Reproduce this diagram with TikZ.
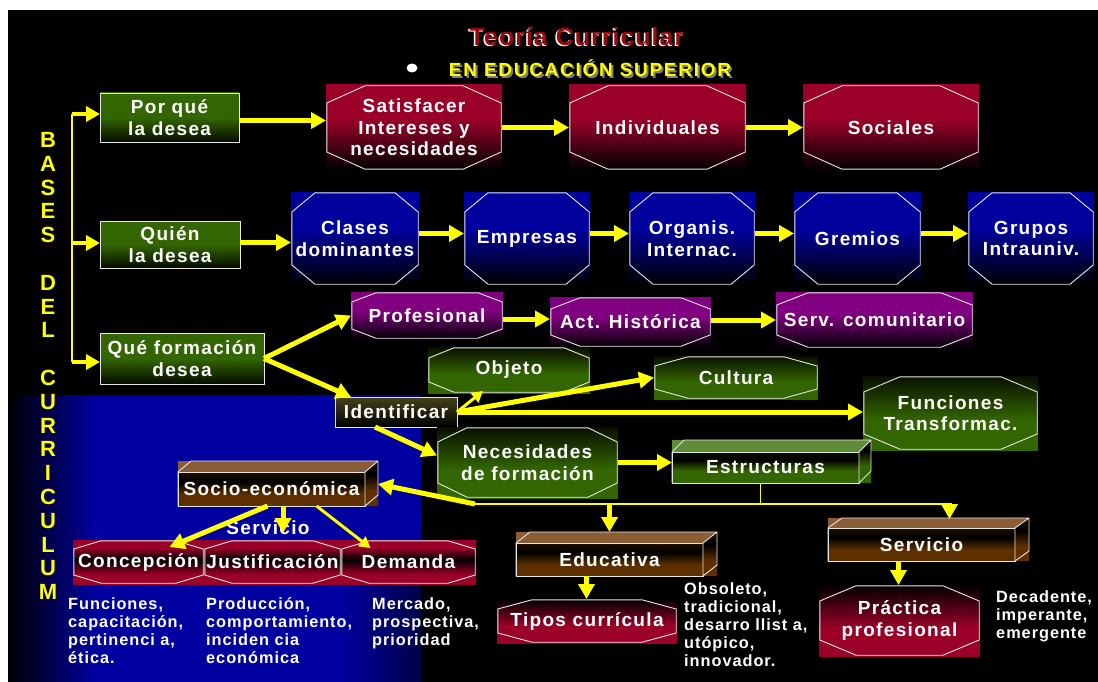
\documentclass[tikz,border=0pt]{standalone}
\usepackage{fontspec}
\setmainfont{Liberation Sans}
\newfontfamily\spaced[LetterSpace=7]{Liberation Sans}
\newfontfamily\spacedD[LetterSpace=6]{Liberation Sans}
\newfontfamily\spacedS[LetterSpace=9]{Liberation Sans}
\newfontfamily\spacedT[LetterSpace=4]{Liberation Sans}
\usetikzlibrary{arrows.meta,calc}

\definecolor{crim}{HTML}{9A0028}
\definecolor{cBlue}{HTML}{00009C}
\definecolor{cPurp}{HTML}{800080}
\definecolor{cGreen}{HTML}{336600}
\definecolor{cGreenL}{HTML}{5F8C37}
\definecolor{cBrownL}{HTML}{8A5D36}
\definecolor{cBrownD}{HTML}{5E3000}
\definecolor{cOlive}{HTML}{46421A}
\definecolor{cYel}{HTML}{FFFF00}
\definecolor{cTitle}{HTML}{9A0A0A}
\definecolor{cBg}{HTML}{0000A0}
\definecolor{cEdge}{HTML}{E6E6E6}
\colorlet{cGreenK}{black!85!cGreen}
\colorlet{cBrownK}{black!70!cBrownD}
\colorlet{cGreenDk}{black!90!cGreen}

% vertical shadings: 0bp is the bottom, the shaded path spans 25bp..75bp
\pgfdeclareverticalshading{redDown}{100bp}{color(0bp)=(black); color(25bp)=(black); color(55bp)=(crim); color(100bp)=(crim)}
\pgfdeclareverticalshading{blueDown}{100bp}{color(0bp)=(black); color(25bp)=(black); color(55bp)=(cBlue); color(100bp)=(cBlue)}
\pgfdeclareverticalshading{purpDown}{100bp}{color(0bp)=(black); color(25bp)=(black); color(55bp)=(cPurp); color(100bp)=(cPurp)}
\pgfdeclareverticalshading{greenDown}{100bp}{color(0bp)=(black); color(25bp)=(cGreenDk); color(50bp)=(cGreen); color(100bp)=(cGreen)}
\pgfdeclareverticalshading{greenUp}{100bp}{color(0bp)=(cGreen); color(45bp)=(cGreen); color(75bp)=(cGreenK); color(100bp)=(cGreenK)}
\pgfdeclareverticalshading{oliveDown}{100bp}{color(0bp)=(black); color(25bp)=(black); color(75bp)=(cOlive); color(100bp)=(cOlive)}
\pgfdeclareverticalshading{redBand}{100bp}{color(0bp)=(crim); color(25bp)=(crim); color(36bp)=(crim); color(53bp)=(black); color(66bp)=(crim); color(100bp)=(crim)}
\pgfdeclareverticalshading{redUp}{100bp}{color(0bp)=(crim); color(25bp)=(crim); color(45bp)=(crim); color(75bp)=(black); color(100bp)=(black)}
\pgfdeclareverticalshading{brownFace}{100bp}{color(0bp)=(cBrownD); color(25bp)=(cBrownD); color(42bp)=(cBrownD); color(60bp)=(black); color(75bp)=(cBrownK); color(100bp)=(cBrownK)}
\pgfdeclareverticalshading{greenFace}{100bp}{color(0bp)=(cGreen); color(25bp)=(cGreen); color(45bp)=(cGreen); color(62bp)=(black); color(75bp)=(cGreenK); color(100bp)=(cGreenK)}

% top face, side face and corner fills of a box drawn in perspective
\newcommand\cubeparts[6]{%
  \fill[#4] (#1.north west) -- ++(0,-#3) -- ++(#2,0) -- cycle;
  \fill[#6] (#1.south east) -- ++(#2,0) -- ++(0,-#3) -- cycle;
  \fill[#4] (#1.north west) -- ++(#2,-#3) -- ($(#1.north east)+(#2,-#3)$) -- (#1.north east) -- cycle;
  \shade[shading=#5] (#1.north east) -- ++(#2,-#3) -- ($(#1.south east)+(#2,-#3)$) -- (#1.south east) -- cycle;
  \draw[rim] (#1.south west) -- (#1.north west) -- ++(#2,-#3) -- ($(#1.north east)+(#2,-#3)$) -- ($(#1.south east)+(#2,-#3)$) -- (#1.south east) -- (#1.north east) -- ($(#1.north east)+(#2,-#3)$);
  \draw[rim] (#1.north west) -- (#1.north east);
}

\tikzset{
  rim/.style={draw=cEdge, line width=0.9pt},
  lbl/.style={text=white, font=\spaced\bfseries\fontsize{19}{21.5}\selectfont, align=center, inner sep=0pt, outer sep=0pt},
  rbox/.style={lbl, shade, draw=cEdge, line width=0.9pt},
  cubebox/.style={lbl, shade, draw=cEdge, line width=0.9pt},
  oct/.style 2 args={lbl, shade, path picture={
    \draw[rim]
      ($(path picture bounding box.north west)+(#1pt,-0.8pt)$) --
      ($(path picture bounding box.north east)+(-#1pt,-0.8pt)$) --
      ($(path picture bounding box.north east)+(-0.8pt,-#2pt)$) --
      ($(path picture bounding box.south east)+(-0.8pt,#2pt)$) --
      ($(path picture bounding box.south east)+(-#1pt,0.8pt)$) --
      ($(path picture bounding box.south west)+(#1pt,0.8pt)$) --
      ($(path picture bounding box.south west)+(0.8pt,#2pt)$) --
      ($(path picture bounding box.north west)+(0.8pt,-#2pt)$) -- cycle;}},
  desc/.style={anchor=north west, inner sep=0pt, align=left, text=white, font=\spacedD\bfseries\fontsize{16.3}{18}\selectfont},
  ttl/.style={font=\spacedT\bfseries\fontsize{25}{28}\selectfont, inner sep=0pt},
  subttl/.style={font=\spacedS\bfseries\fontsize{19}{22}\selectfont, inner sep=0pt},
  letter/.style={text=cYel, font=\bfseries\fontsize{22}{24}\selectfont, inner sep=0pt},
  arr/.style={draw=cYel, line width=5pt, -{Triangle[length=15pt,width=16pt]}},
  arrthin/.style={draw=cYel, line width=3pt, -{Triangle[length=11pt,width=12pt]}},
  brk/.style={draw=cYel, line width=4pt, -{Triangle[length=14pt,width=15pt]}},
  yelthin/.style={draw=cYel, line width=1.3pt},
}

\begin{document}
\begin{tikzpicture}[x=1pt,y=-1pt]
\useasboundingbox (0,0) rectangle (1098,682);
\fill[white] (0,0) rectangle (1098,682);
\fill[black] (8,10) rectangle (1098,682);

% blue panel, lower left
\fill[cBg] (8,395) rectangle (421,682);
\shade[left color=black, right color=cBg] (8,395) rectangle (95,682);
\shade[left color=cBg, right color=black!55!cBg] (340,540) rectangle (421,682);

% heading
\node[ttl, text=white] (titleshadow) at (575.5,37.5) {Teoría Curricular};
\node[ttl, text=cTitle] (title) at (577,36) {Teoría Curricular};
\fill[white] (412,68) ellipse (5.5 and 4.5);
\node[subttl, text=gray] (subshadow) at (592,70) {EN EDUCACIÓN SUPERIOR};
\node[subttl, text=cYel] (sub) at (590,68) {EN EDUCACIÓN SUPERIOR};

% vertical caption
\foreach \ch/\k in {B/0,A/1,S/2,E/3,S/4,D/6,E/7,L/8,C/10,U/11,R/12,R/13,I/14,C/15,U/16,L/17,U/18,M/19}
  \node[letter] (l\k) at (48,{140+23.8*\k}) {\ch};

% left-hand questions
\node[rbox, shading=greenDown, minimum width=139pt, minimum height=49pt] (por) at (169.5,117.5) {Por qué\\la desea};
\node[rbox, shading=greenDown, minimum width=140pt, minimum height=47pt] (qui) at (170,244.5) {Quién\\la desea};
\node[rbox, shading=greenDown, minimum width=164pt, minimum height=51pt] (qf) at (182,358.5) {Qué formación\\desea};

% first row
\node[oct={39}{18}, shading=redDown, minimum width=176pt, minimum height=85pt] (sat) at (414,127.5) {Satisfacer\\Intereses y\\necesidades};
\node[oct={39}{18}, shading=redDown, minimum width=177pt, minimum height=85pt] (ind) at (657.5,127.5) {Individuales};
\node[oct={39}{18}, shading=redDown, minimum width=176pt, minimum height=85pt] (soc) at (891,127.5) {Sociales};

% second row
\node[oct={24}{20}, shading=blueDown, minimum width=128pt, minimum height=93pt] (cla) at (355,238.5) {Clases\\dominantes};
\node[oct={24}{20}, shading=blueDown, minimum width=126pt, minimum height=93pt] (emp) at (527,238.5) {Empresas};
\node[oct={24}{20}, shading=blueDown, minimum width=126pt, minimum height=93pt] (org) at (692,238.5) {Organis.\\Internac.};
\node[oct={24}{20}, shading=blueDown, minimum width=127pt, minimum height=93pt] (gre) at (857.5,238.5) {Gremios};
\node[oct={24}{20}, shading=blueDown, minimum width=126pt, minimum height=93pt] (gru) at (1031,238.5) {Grupos\\Intrauniv.};

% third row
\node[oct={25}{10}, shading=purpDown, minimum width=152pt, minimum height=47pt] (prof) at (427,315.5) {Profesional};
\node[oct={30}{12}, shading=purpDown, minimum width=161pt, minimum height=50pt] (act) at (630.5,322) {Act. Histórica};
\node[oct={32}{13}, shading=purpDown, minimum width=197pt, minimum height=56pt] (serv) at (874.5,320) {Serv. comunitario};

% identification branch
\node[rbox, shading=oliveDown, minimum width=122pt, minimum height=30pt] (ide) at (396,412) {Identificar};
\node[oct={26}{11}, shading=greenUp, minimum width=162pt, minimum height=46pt] (obj) at (509,370) {Objeto};
\node[oct={34}{10}, shading=greenUp, minimum width=164pt, minimum height=43pt] (cul) at (736,377.5) {Cultura};
\node[oct={37}{16}, shading=greenUp, minimum width=175pt, minimum height=74pt] (fun) at (950.5,413) {Funciones\\Transformac.};
\node[oct={30}{15}, shading=greenUp, minimum width=181pt, minimum height=71pt] (nec) at (527.5,462.5) {Necesidades\\de formación};

% boxes in perspective
\node[cubebox, shading=greenFace, minimum width=187pt, minimum height=31pt] (est) at (765.5,467.5) {Estructuras};
\cubeparts{est}{12}{12}{cGreenL}{greenFace}{cGreen}
\node[cubebox, shading=brownFace, minimum width=187pt, minimum height=34pt] (seco) at (271.5,489) {Socio-económica};
\cubeparts{seco}{13}{11}{cBrownL}{brownFace}{cBrownD}
\node[cubebox, shading=brownFace, minimum width=187pt, minimum height=33pt] (edu) at (609.5,559.5) {Educativa};
\cubeparts{edu}{14}{11}{cBrownL}{brownFace}{cBrownD}
\node[cubebox, shading=brownFace, minimum width=187pt, minimum height=33pt] (svc) at (921.5,544.5) {Servicio};
\cubeparts{svc}{14}{10}{cBrownL}{brownFace}{cBrownD}

% bottom row
\node[oct={28}{9}, shading=redBand, minimum width=131pt, minimum height=44pt] (con) at (138.5,562) {Concepción};
\node[oct={28}{9}, shading=redBand, minimum width=137pt, minimum height=44pt] (jus) at (272.5,562) {Justificación};
\node[oct={28}{9}, shading=redBand, minimum width=135pt, minimum height=44pt] (dem) at (408.5,562) {Demanda};
\node[oct={35}{10}, shading=redUp, minimum width=180pt, minimum height=44pt] (tip) at (587,621) {Tipos currícula};
\node[oct={37}{16}, shading=redUp, minimum width=161pt, minimum height=71pt] (pra) at (899.5,620.5) {Práctica\\profesional};

\node[lbl] (srv) at (268,528) {Servicio};

% descriptions
\node[desc] (dcon) at (68,597) {Funciones,\\capacitación,\\pertinenci a,\\ética.};
\node[desc] (djus) at (206,597) {Producción,\\comportamiento,\\inciden cia\\económica};
\node[desc] (ddem) at (372,597) {Mercado,\\prospectiva,\\prioridad};
\node[desc] (dtip) at (684,582) {Obsoleto,\\tradicional,\\desarro llist a,\\utópico,\\innovador.};
\node[desc] (dpra) at (996,590) {Decadente,\\imperante,\\emergente};

% bracket on the left
\coordinate (b1) at (72,114);
\coordinate (b2) at (72,243);
\coordinate (b3) at (72,362);
\draw[yelthin] (b1) -- (b3);
\draw[brk] (b1) -- (b1 -| por.west);
\draw[brk] (b2) -- (b2 -| qui.west);
\draw[brk] (b3) -- (b3 -| qf.west);

% connectors
\coordinate (p1) at ([yshift=-3pt]por.east);
\draw[arr] (p1) -- (p1 -| sat.west);
\draw[arr] (sat.east) -- (ind.west);
\draw[arr] (ind.east) -- (soc.west);

\coordinate (q1) at ([yshift=2pt]qui.east);
\draw[arr] (q1) -- (q1 -| cla.west);
\foreach \a/\b in {cla/emp,emp/org,org/gre,gre/gru}
  \draw[arr] ([yshift=5pt]\a.east) -- ([yshift=5pt]\b.west);

\draw[arr] (qf.east) -- (prof.west);
\draw[arr] (qf.east) -- ([xshift=16pt]ide.north west);
\draw[arr] ([yshift=-3.5pt]prof.east) -- ([yshift=3pt]act.west);
\draw[arr] ([yshift=2pt]act.east) -- (serv.west);

\draw[arrthin] (ide.east) -- ([xshift=-26pt,yshift=2pt]obj.south);
\draw[arr] (ide.east) -- (cul.west);
\draw[arr] (ide.east) -- (ide.east -| fun.west);
\draw[arr] ([xshift=-21pt]ide.south) -- ([yshift=7pt]nec.west);
\draw[arr] (nec.east) -- (nec.east -| est.west);

\coordinate (hl) at (475,504);
\coordinate (hr) at (952,504);
\coordinate (es) at ([xshift=-5pt]est.south);
\draw[yelthin] (es) -- (es |- hl);
\draw[yelthin] (hl) -- (hr);
\draw[arr] (hl) -- ([xshift=13pt,yshift=5pt]seco.east);
\coordinate (et) at ([yshift=11pt]edu.north);
\draw[arr] (et |- hl) -- (et);
\coordinate (st) at ([xshift=28pt,yshift=9pt]svc.north);
\draw[arr] (st |- hl) -- (st);
\coordinate (e1) at ([xshift=-23pt]edu.south);
\draw[arr] (e1) -- (e1 |- tip.north);
\coordinate (s1) at ([xshift=-23pt]svc.south);
\draw[arr] (s1) -- (s1 |- pra.north);

\draw[arr] ([xshift=-4pt]seco.south) -- ([xshift=31pt,yshift=-7pt]con.north);
\coordinate (s2) at ([xshift=11.5pt]seco.south);
\coordinate (s2e) at ($(s2)+(0,27)$);
\draw[arr] (s2) -- (s2e);
\draw[arrthin] ([xshift=45pt]seco.south) -- ([xshift=-38pt,yshift=-8pt]dem.north);
\end{tikzpicture}
\end{document}
